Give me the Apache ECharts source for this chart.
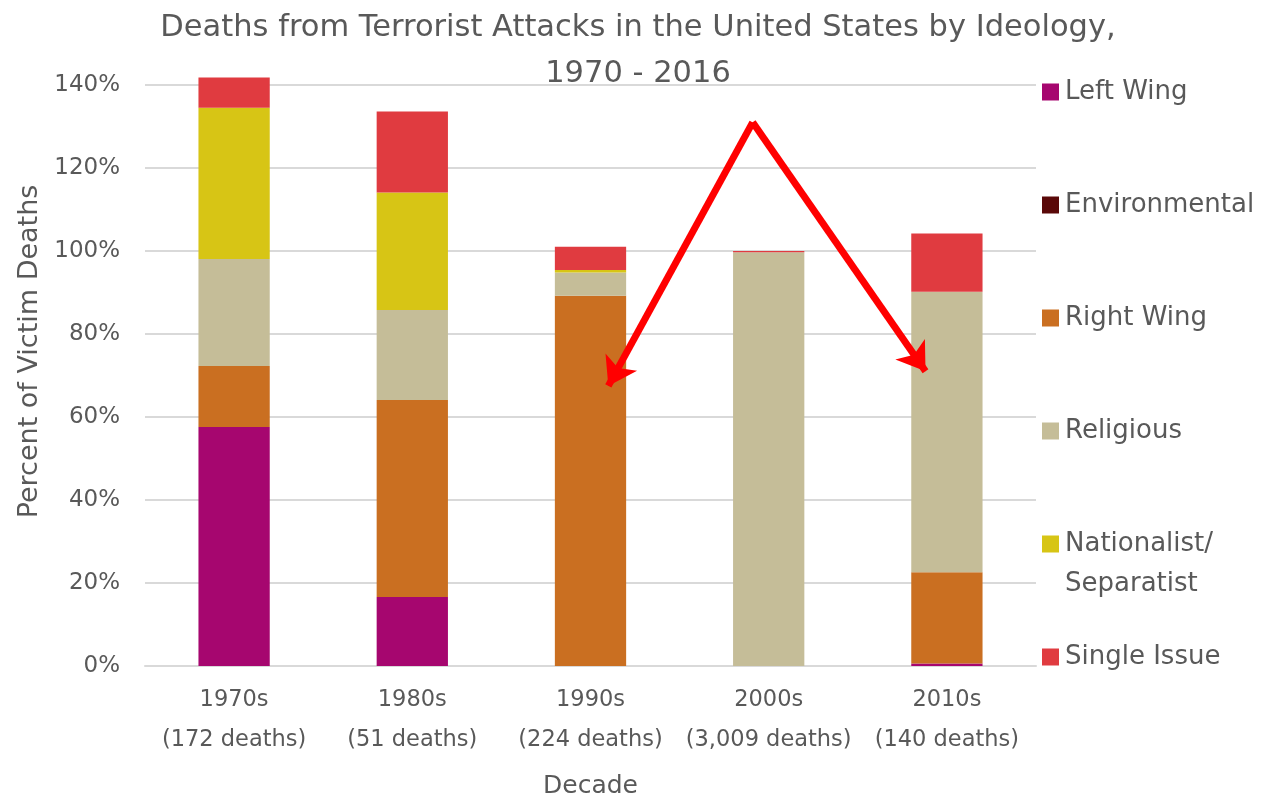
<!DOCTYPE html>
<html>
<head>
<meta charset="utf-8">
<script src="https://cdn.jsdelivr.net/npm/echarts@6/dist/echarts.min.js"></script>
<style>
  html, body { margin: 0; padding: 0; background: #ffffff; }
  #chart { width: 1262px; height: 812px; }
</style>
</head>
<body>
<div id="chart"></div>
<script>
// Decades and their total death counts
const decades = ['1970s', '1980s', '1990s', '2000s', '2010s'];
const deathCounts = ['172 deaths', '51 deaths', '224 deaths', '3,009 deaths', '140 deaths'];

// Share of victim deaths (%) per ideology, by decade
const leftWing      = [57.6, 16.6, 0,    0,    0.6];
const environmental = [0,    0,    0,    0,    0];
const rightWing     = [14.7, 47.5, 89.2, 0,    22.0];
const religious     = [25.8, 21.7, 5.6,  99.7, 67.6];
const nationalist   = [36.4, 28.3, 0.6,  0,    0];
const singleIssue   = [7.3,  19.5, 5.6,  0.3,  14.0];

// Y axis ticks
const yTicks = [0, 20, 40, 60, 80, 100, 120, 140];

// Annotation arrows: [decade position, percent]
const arrowApex = [2.91, 131];
const arrowLeftTip = [2.10, 67.5];
const arrowRightTip = [3.88, 71];

const seriesDefs = [
  { name: 'Left Wing', data: leftWing, color: '#A6066F' },
  { name: 'Environmental', data: environmental, color: '#5A0808' },
  { name: 'Right Wing', data: rightWing, color: '#CA6F21' },
  { name: 'Religious', data: religious, color: '#C5BD98' },
  { name: 'Nationalist/', data: nationalist, color: '#D7C515' },
  { name: 'Single Issue', data: singleIssue, color: '#E03B40' }
];

const textGray = '#595959';
const wideFont = '"DejaVu Sans", "Open Sans", sans-serif';

const chart = echarts.init(document.getElementById('chart'), null, { renderer: 'canvas' });

const legendBase = {
  orient: 'vertical',
  left: 1037,
  icon: 'rect',
  itemWidth: 17,
  itemHeight: 17,
  itemGap: 83,
  selectedMode: false,
  textStyle: { fontFamily: wideFont, fontSize: 26, color: textGray, lineHeight: 30, padding: [0, 0, 0, 1] }
};

const option = {
  backgroundColor: '#ffffff',
  animation: false,
  title: {
    text: 'Deaths from Terrorist Attacks in the United States by Ideology,\n1970 - 2016',
    left: 633,
    textAlign: 'center',
    top: 0,
    textStyle: { fontFamily: wideFont, fontSize: 30.5, fontWeight: 'normal', color: textGray, lineHeight: 46 }
  },
  legend: [
    Object.assign({}, legendBase, {
      top: 72,
      data: ['Left Wing', 'Environmental', 'Right Wing', 'Religious']
    }),
    Object.assign({}, legendBase, {
      top: 479,
      data: ['Nationalist/'],
      textStyle: Object.assign({}, legendBase.textStyle, { lineHeight: 40 }),
      formatter: function (name) { return '\n' + name + '\nSeparatist'; }
    }),
    Object.assign({}, legendBase, {
      top: 637,
      data: ['Single Issue']
    })
  ],
  grid: { left: 145, right: 226, top: 85, bottom: 146, containLabel: false, outerBoundsMode: 'none' },
  xAxis: [
    {
      type: 'category',
      data: decades,
      name: 'Decade',
      nameLocation: 'middle',
      nameGap: 108,
      nameTextStyle: { fontFamily: wideFont, fontSize: 25, color: textGray },
      axisLine: { lineStyle: { color: '#d9d9d9', width: 2 } },
      axisTick: { show: false },
      axisLabel: {
        margin: 14,
        interval: 0,
        fontFamily: wideFont,
        fontSize: 22.5,
        color: textGray,
        lineHeight: 40,
        formatter: function (value, idx) { return value + '\n(' + deathCounts[idx] + ')'; }
      }
    },
    {
      type: 'value',
      show: false,
      min: -0.5,
      max: 4.5
    }
  ],
  yAxis: {
    type: 'value',
    min: yTicks[0],
    max: yTicks[yTicks.length - 1],
    interval: yTicks[1] - yTicks[0],
    name: 'Percent of Victim Deaths',
    nameLocation: 'middle',
    nameGap: 100,
    nameTextStyle: { fontFamily: wideFont, fontSize: 27, color: textGray, padding: [0, 0, 0, 48] },
    axisLine: { show: false },
    axisTick: { show: false },
    axisLabel: { margin: 25, fontFamily: wideFont, fontSize: 23, color: textGray, formatter: '{value}%' },
    splitLine: { lineStyle: { color: '#d9d9d9', width: 2 } }
  },
  series: seriesDefs.map(function (s) {
    return {
      name: s.name,
      type: 'bar',
      stack: 'total',
      barWidth: '40%',
      clip: false,
      data: s.data,
      itemStyle: { color: s.color },
      emphasis: { disabled: true }
    };
  }).concat([{
    name: 'arrows',
    type: 'lines',
    coordinateSystem: 'cartesian2d',
    xAxisIndex: 1,
    yAxisIndex: 0,
    polyline: false,
    clip: false,
    symbol: ['none', 'arrow'],
    symbolSize: [20, 27],
    silent: true,
    z: 10,
    lineStyle: { color: '#FF0000', width: 7, opacity: 1, curveness: 0 },
    data: [
      { coords: [arrowApex, arrowLeftTip] },
      { coords: [arrowApex, arrowRightTip] }
    ]
  }])
};

chart.setOption(option);
</script>
</body>
</html>
